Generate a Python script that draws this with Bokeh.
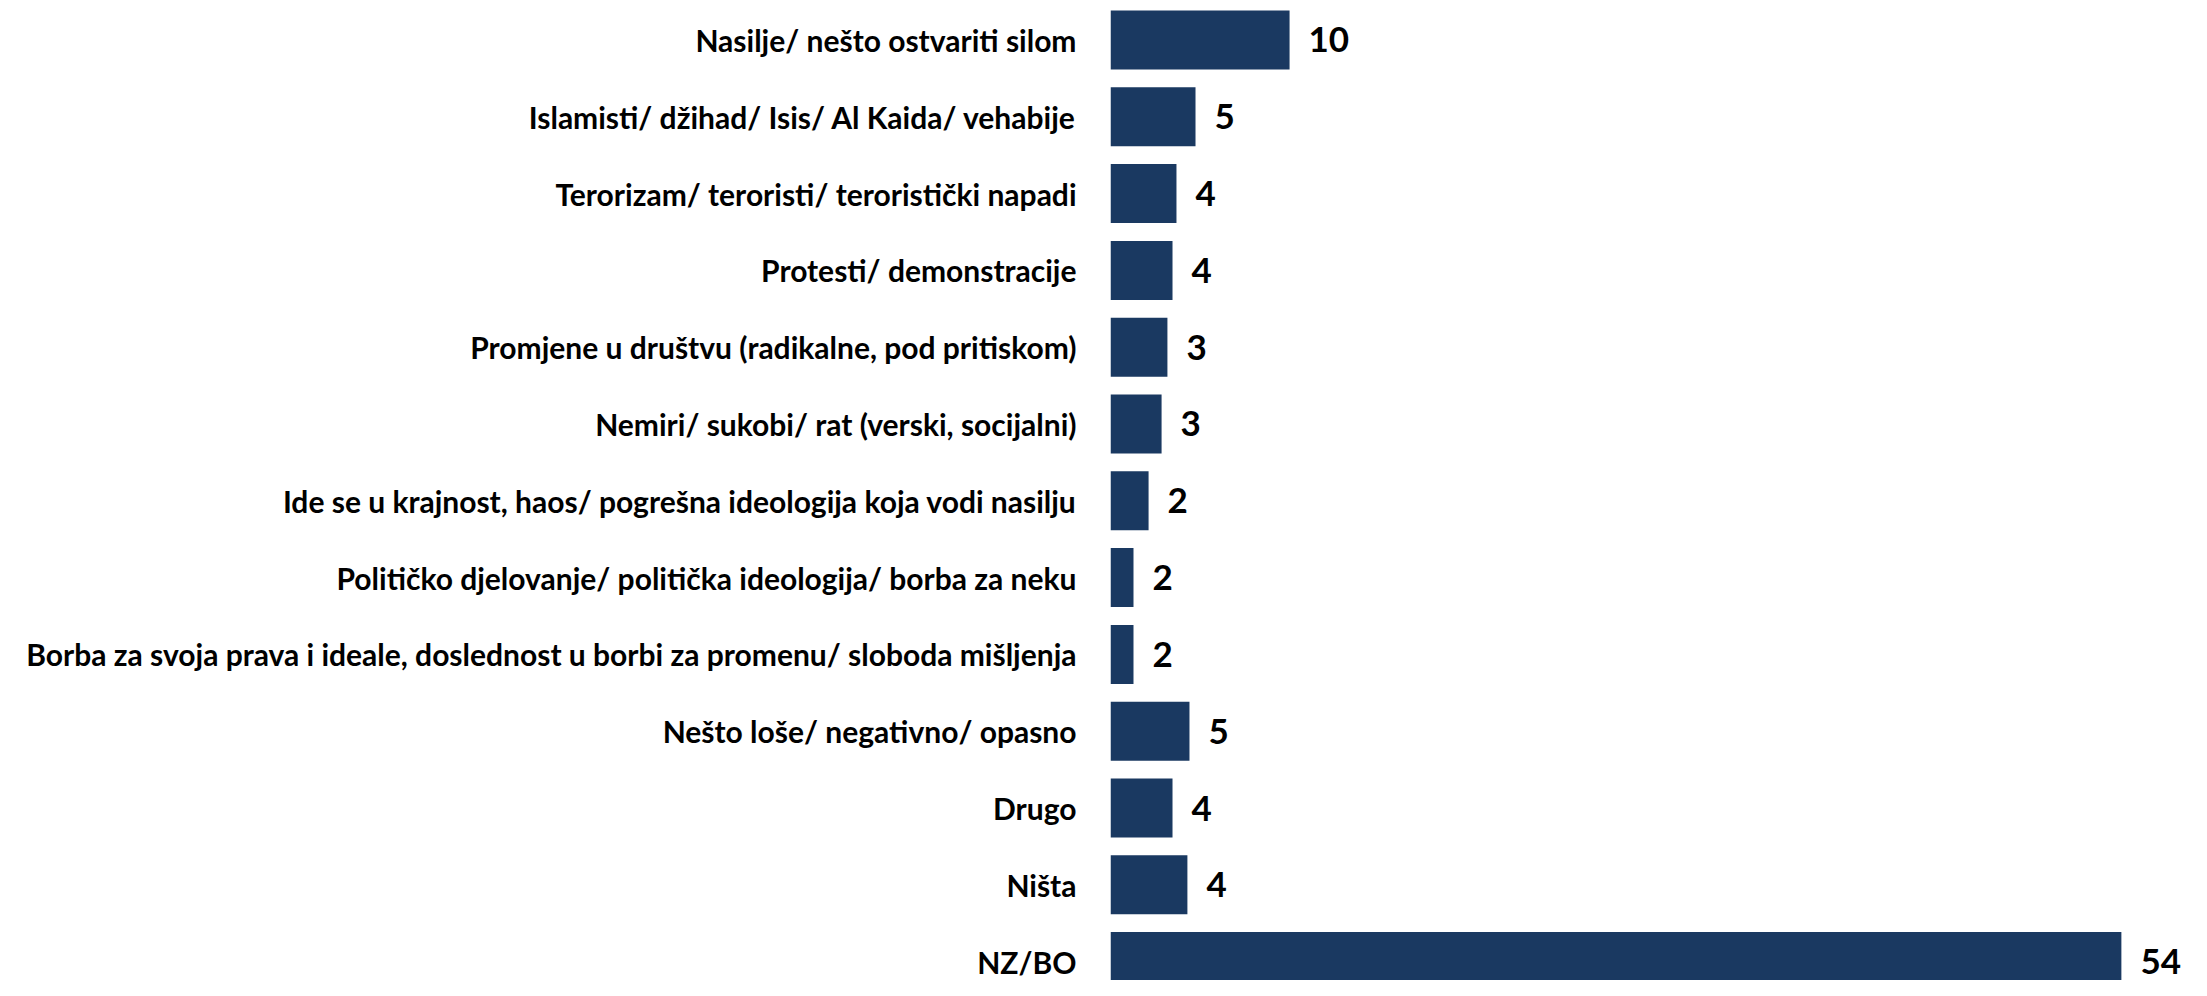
from bokeh.plotting import figure
from bokeh.models import Range1d, FixedTicker, ColumnDataSource
from bokeh.embed import file_html
from bokeh.resources import INLINE
from bokeh.core.properties import value

categories = [
    "Nasilje/ nešto ostvariti silom",
    "Islamisti/ džihad/ Isis/ Al Kaida/ vehabije",
    "Terorizam/ teroristi/ teroristički napadi",
    "Protesti/ demonstracije",
    "Promjene u društvu (radikalne, pod pritiskom)",
    "Nemiri/ sukobi/ rat (verski, socijalni)",
    "Ide se u krajnost, haos/ pogrešna ideologija koja vodi nasilju",
    "Političko djelovanje/ politička ideologija/ borba za neku",
    "Borba za svoja prava i ideale, doslednost u borbi za promenu/ sloboda mišljenja",
    "Nešto loše/ negativno/ opasno",
    "Drugo",
    "Ništa",
    "NZ/BO",
]
values = [9.87, 4.88, 3.87, 3.66, 3.39, 3.08, 2.39, 1.59, 1.59, 4.56, 3.66, 4.45, 54.0]
labels = ["10", "5", "4", "4", "3", "3", "2", "2", "2", "5", "4", "4", "54"]

n = len(categories)
ypos = [n - 1 - i for i in range(n)]

src = ColumnDataSource(dict(y=ypos, v=values, lab=labels))

BAR = "#1A3961"
FONT = "Lato"

p = figure(width=2191, height=980, output_backend="svg", toolbar_location=None,
           x_range=Range1d(0.37, 57.72), y_range=Range1d(-0.246, 12.514),
           min_border_left=1110, min_border_right=0, min_border_top=0, min_border_bottom=0)
p.outline_line_color = None
p.grid.visible = False
p.xaxis.visible = False
p.background_fill_color = "white"
p.border_fill_color = "white"

p.hbar(y="y", right="v", left=0, height=0.768, source=src, color=BAR, line_color=None)
p.text(x="v", y="y", text="lab", source=src, x_offset=19, text_align="left",
       text_baseline="middle", text_font=value(FONT), text_font_style="bold",
       text_font_size="35px", text_color="black")

ya = p.yaxis[0]
ya.ticker = FixedTicker(ticks=ypos)
ya.major_label_overrides = {ypos[i]: categories[i] for i in range(n)}
ya.axis_line_color = None
ya.major_tick_line_color = None
ya.minor_tick_line_color = None
ya.major_tick_out = 0
ya.major_tick_in = 0
ya.major_label_standoff = 34
ya.major_label_text_font = FONT
ya.major_label_text_font_style = "bold"
ya.major_label_text_font_size = "30px"
ya.major_label_text_color = "black"

open("out.html", "w").write(file_html(p, INLINE))
